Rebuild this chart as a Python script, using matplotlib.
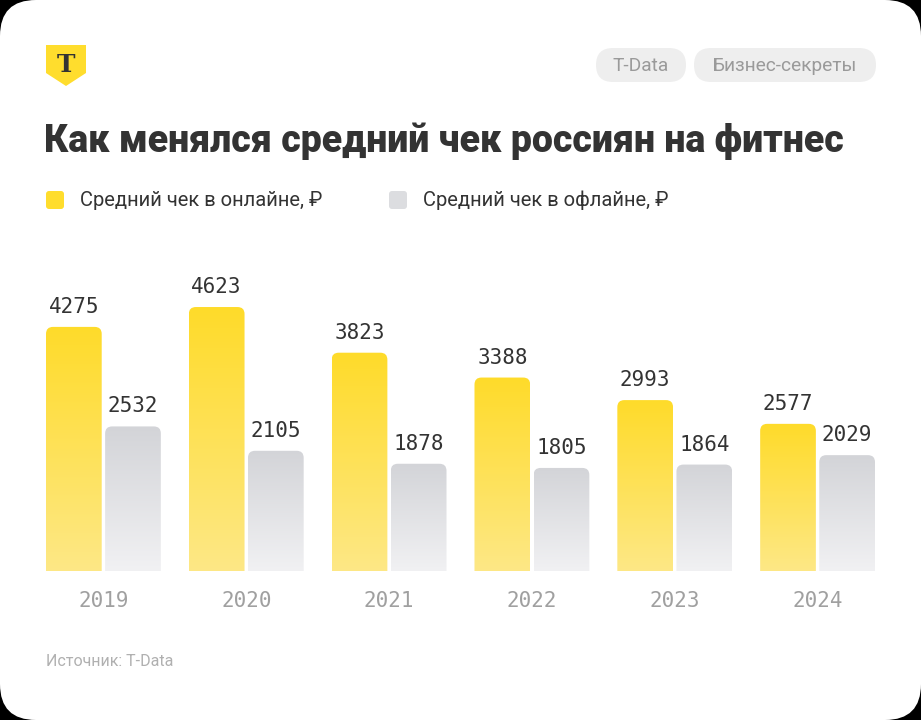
import matplotlib.pyplot as plt
import numpy as np
from matplotlib.patches import FancyBboxPatch, Polygon
from matplotlib.colors import LinearSegmentedColormap

# data
years = ['2019', '2020', '2021', '2022', '2023', '2024']
online = [4275, 4623, 3823, 3388, 2993, 2577]
offline = [2532, 2105, 1878, 1805, 1864, 2029]
series_names = ['Средний чек в онлайне, ₽', 'Средний чек в офлайне, ₽']

W, H = 921, 720
fig = plt.figure(figsize=(W / 100, H / 100), dpi=100)
fig.patch.set_facecolor('black')

# white card with rounded corners over the whole image
bg = fig.add_axes([0, 0, 1, 1])
bg.set_xlim(0, W)
bg.set_ylim(H, 0)
bg.axis('off')
bg.add_patch(FancyBboxPatch((0, 0), W, H, boxstyle='round,pad=0,rounding_size=36',
                            fc='white', ec='none'))

# logo shield
bg.add_patch(Polygon([(46, 45), (86, 45), (86, 73), (66, 86), (46, 73)], closed=True,
                     fc='#FFDD2D', ec='none'))
bg.text(66, 65, 'T', ha='center', va='center', fontsize=18, fontweight='heavy',
        family='DejaVu Serif', color='#333333')

# pills at the top right
for x0, x1, label in [(596, 686, 'T-Data'), (694, 876, 'Бизнес-секреты')]:
    bg.add_patch(FancyBboxPatch((x0, 48), x1 - x0, 34, boxstyle='round,pad=0,rounding_size=17',
                                fc='#EEEEEE', ec='none'))
    bg.text((x0 + x1) / 2, 66, label, ha='center', va='center', fontsize=13.8,
            family='Roboto', color='#9A9A9A')

# title
bg.text(44, 141, 'Как менялся средний чек россиян на фитнес', ha='left', va='center',
        fontsize=27, fontweight='heavy', family='Roboto', color='#333333')

# legend
for x0, col, name in [(46, '#FFDD2D', series_names[0]), (389, '#DCDDE0', series_names[1])]:
    bg.add_patch(FancyBboxPatch((x0, 191), 18, 18, boxstyle='round,pad=0,rounding_size=3',
                                fc=col, ec='none'))
    bg.text(x0 + 34, 200, name, ha='left', va='center', fontsize=14.5,
            family='Roboto', color='#333333')

# source
bg.text(46, 662, 'Источник: T-Data', ha='left', va='center', fontsize=11.5,
        family='Roboto', color='#B0B0B0')

# bar chart
px_per_unit_y = 0.0571
left_px, right_px = 46, 875
base_px, top_px = 571, 240
ax = fig.add_axes([left_px / W, (H - base_px) / H, (right_px - left_px) / W,
                   (base_px - top_px) / H])
ax.set_facecolor('none')
bw = 0.39
off = 0.207
ax.set_xlim(-off - bw / 2, len(years) - 1 + off + bw / 2)
ax.set_ylim(0, (base_px - top_px) / px_per_unit_y)
ax.axis('off')

x_unit_px = (right_px - left_px) / (ax.get_xlim()[1] - ax.get_xlim()[0])
aspect = (1 / px_per_unit_y) / (1 / x_unit_px)
r = 7 / x_unit_px

cmap_y = LinearSegmentedColormap.from_list('y', ['#FDE886', '#FFDB2A'])
cmap_g = LinearSegmentedColormap.from_list('g', ['#F1F1F3', '#D3D4D8'])
grad = np.linspace(0, 1, 256).reshape(-1, 1)

x = np.arange(len(years))
for vals, dx, cmap in [(online, -off, cmap_y), (offline, off, cmap_g)]:
    for xi, v in zip(x, vals):
        x0 = xi + dx - bw / 2
        patch = FancyBboxPatch((x0, -300), bw, v + 300,
                               boxstyle=f'round,pad=0,rounding_size={r}',
                               mutation_aspect=aspect, fc='none', ec='none')
        ax.add_patch(patch)
        im = ax.imshow(grad, extent=(x0, x0 + bw, 0, v), origin='lower', cmap=cmap,
                       aspect='auto', interpolation='bicubic')
        im.set_clip_path(patch)
        ax.text(xi + dx, v + 20 * (1 / px_per_unit_y), str(v), ha='center', va='center',
                fontsize=15, family='DejaVu Sans Mono', color='#333333')

for xi, yr in zip(x, years):
    ax.text(xi, -30 / px_per_unit_y, yr, ha='center', va='center', fontsize=15,
            family='DejaVu Sans Mono', color='#A0A0A0')

ax.set_xlim(-off - bw / 2, len(years) - 1 + off + bw / 2)
ax.set_ylim(0, (base_px - top_px) / px_per_unit_y)

fig.savefig('out.png', dpi=100, facecolor='black')
